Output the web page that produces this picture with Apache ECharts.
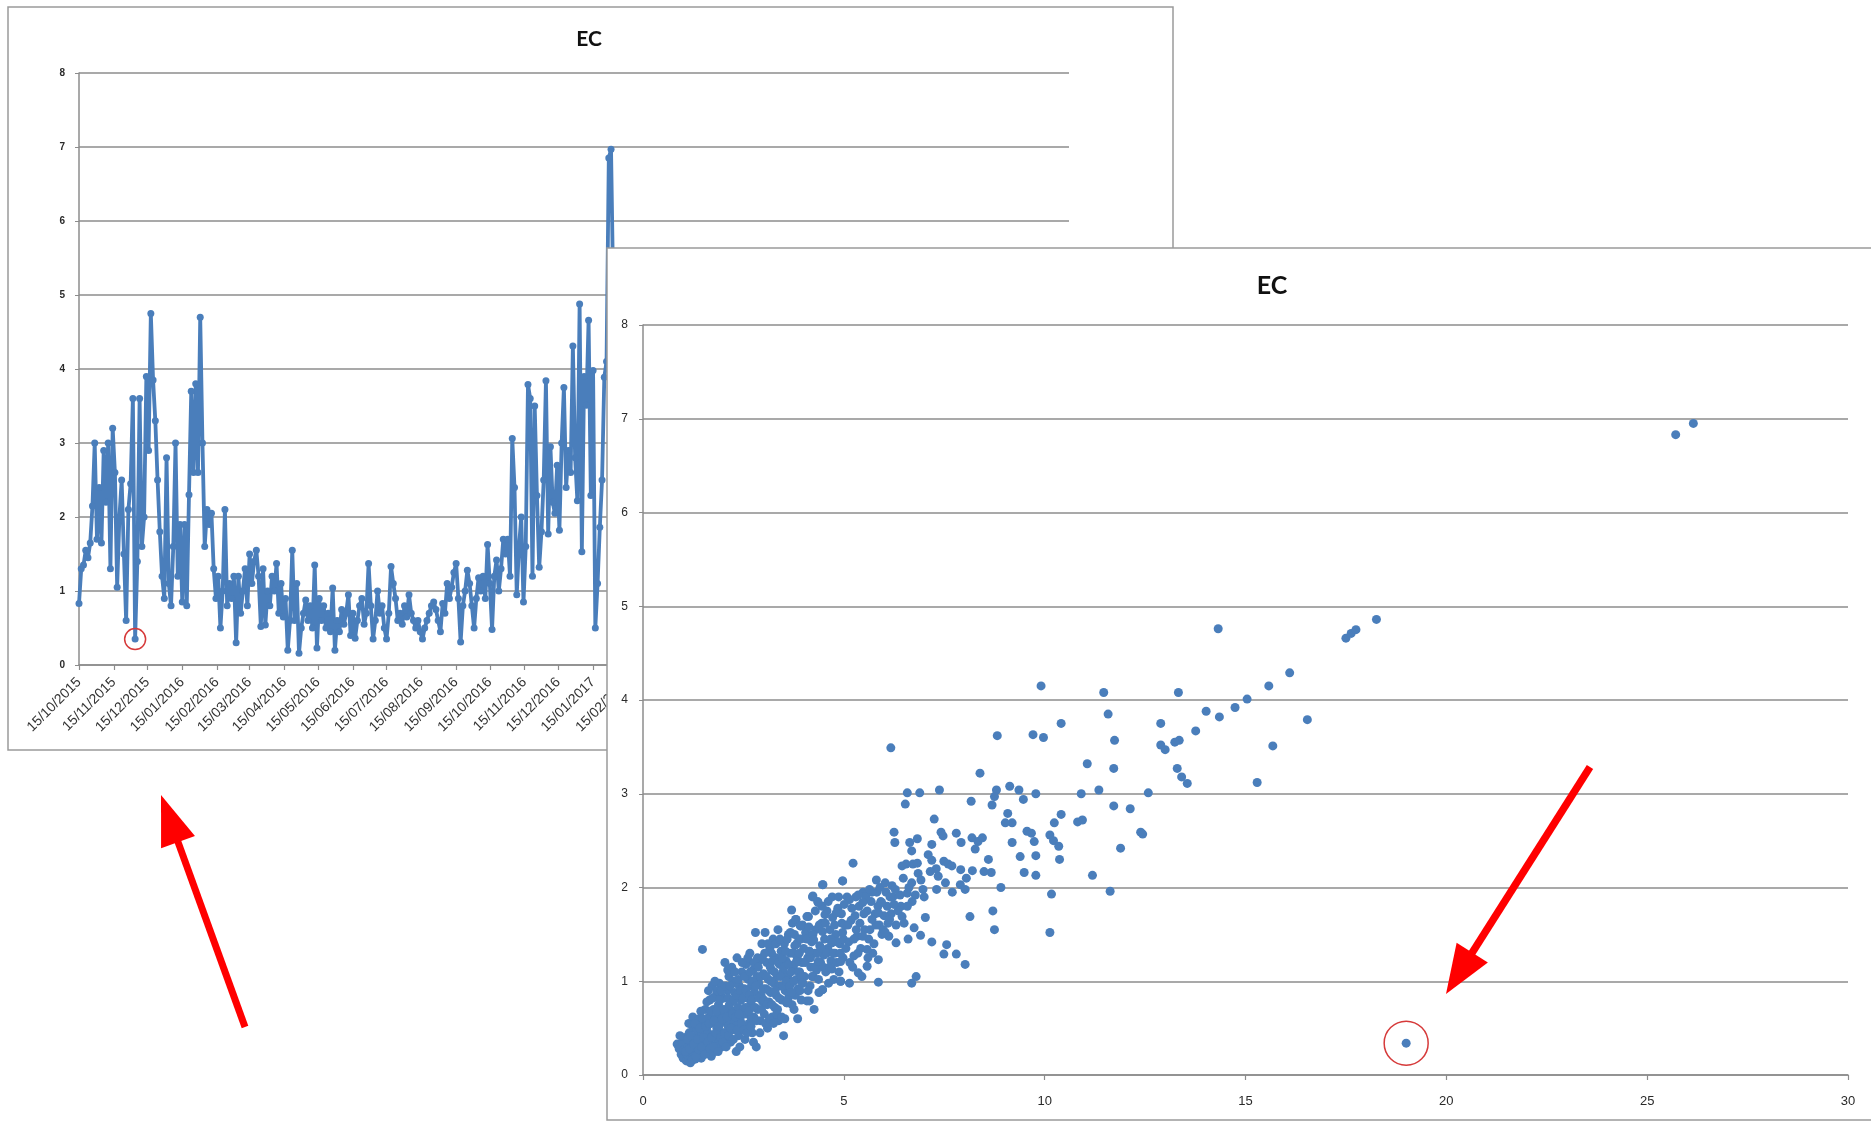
<!DOCTYPE html>
<html><head><meta charset="utf-8">
<script src="https://cdn.jsdelivr.net/npm/echarts@6/dist/echarts.min.js"></script>
<style>
html,body{margin:0;padding:0;background:#fff;overflow:hidden;width:1871px;height:1122px;}
#c1,#c2{position:absolute;left:0;top:0;width:1871px;height:1122px;}
</style></head><body>
<div id="c1"></div><div id="c2"></div>
<script>
// ---------- data ----------
const chartTitle = 'EC';
const monthTicks = ['15/10/2015','15/11/2015','15/12/2015','15/01/2016','15/02/2016','15/03/2016','15/04/2016','15/05/2016','15/06/2016','15/07/2016','15/08/2016','15/09/2016','15/10/2016','15/11/2016','15/12/2016','15/01/2017','15/02/2017','15/03/2017','15/04/2017','15/05/2017','15/06/2017','15/07/2017','15/08/2017','15/09/2017','15/10/2017','15/11/2017','15/12/2017','15/01/2018','15/02/2018','15/03/2018'];
const ecStartDate = '15/10/2015';
const ecStepDays = 2;
const ecValues = [
0.83,1.3,1.35,1.55,1.45,1.65,2.15,3.0,1.7,2.4,1.65,2.9,2.2,3.0,1.3,3.2,2.6,1.05,2.0,2.5,
1.5,0.6,2.1,2.45,3.6,0.35,1.4,3.6,1.6,2.0,3.9,2.9,4.75,3.85,3.3,2.5,1.8,1.2,0.9,2.8,
1.1,0.8,1.6,3.0,1.2,1.9,0.85,1.9,0.8,2.3,3.7,2.6,3.8,2.6,4.7,3.0,1.6,2.1,1.9,2.05,
1.3,0.9,1.2,0.5,1.0,2.1,0.8,1.1,0.9,1.2,0.3,1.2,0.7,1.0,1.3,0.8,1.5,1.1,1.4,
1.55,1.2,0.52,1.3,0.54,1.0,0.8,1.2,1.0,1.37,0.7,1.1,0.65,0.9,0.2,0.6,1.55,0.6,1.1,0.16,
0.5,0.7,0.88,0.6,0.8,0.5,1.35,0.23,0.9,0.6,0.8,0.5,0.7,0.45,1.04,0.2,0.6,0.45,0.75,0.55,
0.7,0.95,0.4,0.7,0.36,0.6,0.8,0.9,0.55,0.7,1.37,0.8,0.35,0.6,1.0,0.7,0.8,0.5,0.35,0.7,
1.33,1.1,0.9,0.6,0.7,0.55,0.8,0.65,0.95,0.7,0.6,0.5,0.6,0.45,0.35,0.5,0.6,0.7,0.8,0.85,
0.75,0.6,0.45,0.83,0.7,1.1,0.9,1.05,1.25,1.37,0.9,0.31,0.8,1.0,1.28,1.1,0.8,0.5,0.9,1.18,
1.0,1.2,0.9,1.63,1.1,0.48,1.2,1.42,1.0,1.3,1.7,1.5,1.7,1.2,3.06,2.4,0.95,1.6,2.0,0.85,
1.6,3.79,3.6,1.2,3.5,2.29,1.32,1.8,2.5,3.84,1.77,2.95,2.2,2.05,2.7,1.82,3.0,3.75,2.4,2.9,
2.6,4.31,2.8,2.22,4.88,1.53,3.9,3.51,4.66,2.29,3.98,0.5,1.1,1.86,2.5,3.89,4.1,6.85,6.97,5.0,3.2
];
const circledIndex = 25;

const scatterPoints = [
[0.85,0.33],[0.9,0.28],[0.95,0.22],[0.98,0.35],[1.0,0.18],[1.02,0.27],[1.05,0.4],[0.92,0.42],
[1.08,0.15],[1.1,0.22],[1.12,0.3],[1.15,0.45],[1.18,0.13],[1.2,0.2],[1.22,0.35],[1.25,0.5],[1.27,0.26],[1.3,0.17],[1.3,0.4],[1.14,0.55],[1.24,0.62],
[1.33,0.3],[1.35,0.48],[1.37,0.22],[1.4,0.6],[1.42,0.35],[1.45,0.18],[1.47,0.44],[1.5,0.28],[1.52,0.55],[1.55,0.7],[1.57,0.38],[1.6,0.25],[1.48,1.34],[1.38,0.52],[1.58,0.5],
[1.62,0.45],[1.64,0.62],[1.66,0.8],[1.68,0.33],[1.7,0.55],[1.72,0.95],[1.74,0.42],[1.76,0.7],[1.78,0.25],[1.8,0.6],[1.82,0.85],[1.84,0.5],[1.86,0.37],[1.88,0.75],[1.9,0.98],[1.92,0.55],[1.94,0.65],[1.96,0.3],[1.98,0.45],[2.0,0.82],[1.7,0.2],[1.8,0.3],
[2.02,0.58],[2.04,1.2],[2.06,0.4],[2.08,0.7],[2.1,0.9],[2.12,0.52],[2.14,1.05],[2.16,0.62],[2.18,0.35],[2.2,0.78],[2.22,0.48],[2.24,1.0],[2.26,0.68],[2.28,0.88],[2.3,0.55],[2.32,0.25],[2.34,1.25],[2.36,0.72],[2.38,0.42],[2.4,0.95],[2.42,0.6],[2.44,0.8],[2.46,1.1],[2.48,0.5],[2.5,0.7],[2.12,0.82],[2.3,0.98],[2.2,0.6],
[2.52,0.92],[2.54,0.38],[2.56,1.18],[2.58,0.65],[2.6,0.82],[2.62,1.02],[2.64,0.55],[2.66,1.3],[2.68,0.75],[2.7,0.95],[2.72,0.45],[2.74,1.12],[2.76,0.62],[2.78,0.88],[2.8,1.52],[2.82,0.3],[2.84,1.05],[2.86,0.7],[2.88,0.98],[2.9,1.22],[2.92,0.58],[2.94,0.85],[2.96,1.4],[2.98,0.78],[3.0,1.08],[2.6,1.2],[2.7,0.6],[2.85,1.25],
[3.02,0.65],[3.04,1.52],[3.06,0.92],[3.08,1.2],[3.1,0.5],[3.12,1.02],[3.14,0.78],[3.16,1.35],[3.18,0.88],[3.2,1.12],[3.22,0.62],[3.24,1.45],[3.26,0.98],[3.28,0.72],[3.3,1.25],[3.32,0.85],[3.34,1.05],[3.36,1.55],[3.38,0.58],[3.4,1.18],[3.42,0.95],[3.44,1.32],[3.46,0.8],[3.48,1.1],[3.5,0.42],[3.2,1.3],[3.35,0.7],
[3.52,1.4],[3.54,0.9],[3.56,1.22],[3.58,0.77],[3.6,1.05],[3.62,1.5],[3.64,0.85],[3.66,1.3],[3.68,0.98],[3.7,0.88],[3.72,1.62],[3.74,1.15],[3.76,0.7],[3.78,1.38],[3.8,1.66],[3.82,1.02],[3.84,1.25],[3.86,0.92],[3.88,1.45],[3.9,1.1],[3.92,1.59],[3.94,0.8],[3.96,1.2],[3.98,0.98],[4.0,1.35],
[4.02,1.05],[4.05,1.52],[4.08,0.79],[4.1,1.25],[4.12,1.69],[4.14,1.32],[4.16,0.95],[4.18,1.15],[4.2,1.42],[4.22,1.9],[4.24,1.05],[4.26,0.7],[4.28,1.3],[4.3,1.55],[4.32,1.12],[4.35,1.85],[4.38,0.88],[4.4,1.38],[4.42,1.2],[4.45,1.62],[4.47,0.91],[4.48,2.03],[4.5,1.28],
[4.52,1.45],[4.55,1.1],[4.58,1.75],[4.6,1.35],[4.62,0.98],[4.65,1.55],[4.68,1.22],[4.7,1.41],[4.72,1.68],[4.75,1.02],[4.78,1.3],[4.8,1.5],[4.82,1.2],[4.85,1.78],[4.88,1.1],[4.9,1.4],[4.92,1.0],[4.95,1.62],[4.97,2.07],[4.98,1.25],
[1.06,0.25],[1.11,0.38],[1.16,0.28],[1.19,0.42],[1.23,0.16],[1.26,0.33],[1.29,0.55],[1.32,0.2],[1.36,0.38],[1.39,0.27],[1.41,0.5],[1.44,0.68],[1.46,0.3],[1.49,0.6],[1.51,0.4],[1.54,0.22],[1.56,0.52],[1.59,0.78],[1.61,0.35],[1.63,0.9],[1.65,0.55],[1.67,0.28],[1.69,0.68],[1.71,0.4],[1.73,0.82],[1.75,0.3],[1.77,0.58],[1.79,1.0],[1.81,0.45],[1.83,0.68],[1.85,0.9],[1.87,0.25],[1.89,0.52],[1.91,0.8],[1.93,0.4],[1.95,0.9],[1.97,0.6],[1.99,0.35],
[2.01,0.7],[2.03,0.45],[2.05,0.95],[2.07,0.3],[2.09,0.62],[2.11,1.12],[2.13,0.42],[2.15,0.75],[2.17,0.95],[2.19,0.5],[2.21,1.15],[2.23,0.65],[2.25,0.38],[2.27,0.8],[2.29,1.1],[2.31,0.62],[2.33,0.85],[2.35,0.48],[2.37,1.02],[2.39,0.65],[2.41,0.3],[2.43,0.9],[2.45,0.55],[2.47,1.2],[2.49,0.82],[2.51,0.48],[2.53,1.05],[2.55,0.72],[2.57,0.9],[2.59,0.45],[2.61,1.25],[2.63,0.68],[2.65,0.85],[2.67,1.1],[2.69,0.52],[2.71,0.8],[2.73,1.0],[2.75,0.35],[2.77,1.2],[2.79,0.72],[2.81,0.95],[2.83,0.58],[2.87,1.15],[2.89,0.82],[2.91,0.45],[2.93,1.05],[2.95,0.7],[2.97,1.25],[2.99,0.92],
[3.01,0.8],[3.03,1.3],[3.05,0.55],[3.07,1.05],[3.09,0.75],[3.11,1.4],[3.13,0.9],[3.15,0.6],[3.17,1.15],[3.19,1.0],[3.21,0.75],[3.23,1.22],[3.25,0.55],[3.27,1.1],[3.29,0.9],[3.31,1.4],[3.33,0.65],[3.37,1.2],[3.39,0.82],[3.41,1.45],[3.43,1.05],[3.45,0.62],[3.47,1.25],[3.49,0.95],[3.51,1.15],[3.53,0.6],[3.55,1.32],[3.57,1.0],[3.59,1.45],[3.61,0.8],[3.63,1.18],[3.65,0.95],[3.67,1.52],[3.69,1.1],[3.71,0.75],[3.73,1.3],[3.75,1.0],[3.77,1.5],[3.79,0.85],[3.81,1.2],[3.83,1.4],[3.85,0.6],[3.87,1.1],[3.89,1.3],[3.91,0.9],[3.93,1.45],[3.95,1.05],[3.97,1.6],
[4.04,1.2],[4.07,1.45],[4.11,0.9],[4.13,1.58],[4.17,1.25],[4.21,1.05],[4.23,1.5],[4.27,1.15],[4.29,1.75],[4.33,1.3],[4.37,1.02],[4.39,1.6],[4.43,1.35],[4.46,1.8],[4.49,1.15],[4.54,1.62],[4.57,1.3],[4.61,1.85],[4.64,1.15],[4.67,1.45],[4.71,1.9],[4.74,1.3],[4.77,1.6],[4.83,1.42],[4.87,1.9],[4.91,1.3],[4.94,1.72],[4.99,1.45],
[5.03,1.6],[5.08,1.9],[5.12,1.42],[5.18,1.65],[5.22,1.15],[5.28,1.7],[5.33,1.48],[5.38,1.8],[5.42,1.35],[5.48,1.95],[5.52,1.55],[5.58,1.75],[5.62,1.45],[5.68,1.85],[5.72,1.3],[5.78,1.72],[5.82,1.95],[5.88,1.6],[5.92,1.85],[5.98,1.55],[6.08,1.8],[6.12,1.48],[6.18,1.72],[6.22,1.9],[6.3,1.6],[6.42,1.8],[6.48,2.1],[6.62,2.0],[6.72,2.25],[6.78,1.92],
[5.05,1.35],[5.1,1.6],[5.15,1.2],[5.2,1.78],[5.25,1.45],[5.3,1.9],[5.35,1.3],[5.4,1.62],[5.45,1.05],[5.5,1.72],[5.55,1.9],[5.6,1.25],[5.65,1.55],[5.7,1.95],[5.75,1.4],[5.8,1.6],[5.85,1.8],[5.9,2.0],[5.95,1.5],[6.0,1.7],[6.05,1.95],[6.1,1.62],[6.15,1.9],[6.2,2.02],[6.35,1.75],[6.4,1.92],[6.5,1.62],[6.55,2.25],[6.7,1.85],[6.85,2.15],[7.0,1.9],[7.1,2.35],[7.3,2.2],[7.6,2.25],[7.7,1.95],[8.05,2.1],[8.2,2.18],
[6.25,2.59],[6.27,2.48],[6.64,2.48],[6.83,2.52],[6.69,2.39],[7.19,2.46],[7.42,2.59],[7.47,2.55],[7.8,2.58],[7.92,2.48],[8.19,2.53],[8.34,2.49],[8.45,2.53],[8.27,2.41],
[6.45,2.23],[6.83,2.26],[7.19,2.29],[7.49,2.28],[7.69,2.23],[7.91,2.19],[7.15,2.17],[7.35,2.12],[6.92,2.08],[6.69,2.05],[6.97,1.98],[7.31,1.98],[7.53,2.05],[7.9,2.03],[8.02,1.98],
[6.03,2.05],[5.81,2.08],[5.64,1.98],[6.28,1.98],[6.58,1.94],[5.94,1.84],[6.25,1.82],[6.58,1.8],[5.86,1.73],[6.14,1.66],[6.45,1.69],[6.75,1.57],[7.03,1.68],[6.6,1.45],[6.3,1.41],[6.03,1.52],[5.7,1.66],[5.47,1.84],[5.36,1.92],[5.14,1.87],[5.01,1.82],
[5.47,1.48],[5.58,1.34],[5.86,1.23],[5.58,1.16],[5.36,1.09],[5.14,0.98],[4.92,1.0],[4.7,1.13],[4.92,1.21],[5.25,1.27],[4.7,1.41],[4.97,1.52],[5.31,1.55],[4.47,1.53],[4.25,1.44],[4.53,1.71],[4.36,1.84],[4.81,1.73],[4.08,1.69],[3.81,1.66],[3.7,1.76],[3.92,1.59],[4.14,1.32],[4.36,1.21],[4.47,0.91],[4.14,0.79],[3.97,0.98],[3.7,0.88],[3.58,0.77],
[9.91,4.15],[11.47,4.08],[13.33,4.08],[11.58,3.85],[10.41,3.75],[12.89,3.75],[14.02,3.88],[14.35,3.82],[14.74,3.92],[15.04,4.01],[15.58,4.15],[16.1,4.29],[13.76,3.67],[13.35,3.57],[13.24,3.55],[12.89,3.52],[13.0,3.47],[11.74,3.57],[15.68,3.51],[16.54,3.79],
[9.71,3.63],[9.97,3.6],[8.82,3.62],[6.17,3.49],[11.06,3.32],[11.72,3.27],[13.3,3.27],[13.41,3.18],[13.55,3.11],[15.29,3.12],[8.39,3.22],[11.35,3.04],[10.91,3.0],[12.58,3.01],[9.78,3.0],[9.13,3.08],[9.36,3.04],[9.47,2.94],[8.8,3.04],[8.75,2.97],[8.69,2.88],[8.17,2.92],[7.38,3.04],[6.89,3.01],[6.58,3.01],[6.53,2.89],
[11.72,2.87],[12.13,2.84],[9.08,2.79],[9.19,2.69],[9.02,2.69],[10.41,2.78],[10.24,2.69],[10.82,2.7],[10.94,2.72],[7.25,2.73],[9.19,2.48],[9.56,2.6],[9.67,2.58],[9.74,2.49],[10.13,2.56],[10.22,2.5],[10.35,2.44],[10.37,2.3],[12.39,2.59],[12.44,2.57],[11.89,2.42],[9.39,2.33],[9.78,2.34],[9.49,2.16],[9.78,2.13],[11.19,2.13],[11.63,1.96],[10.17,1.93],[10.13,1.52],
[8.91,2.0],[8.67,2.16],[8.49,2.17],[8.6,2.3],[8.71,1.75],[8.75,1.55],[8.14,1.69],[8.02,1.18],[7.8,1.29],[7.49,1.29],[7.56,1.39],[7.19,1.42],[6.91,1.49],[6.8,1.05],[6.69,0.98],[5.86,0.99],[5.23,2.26],[4.97,2.07],[4.47,2.03],[4.23,1.91],
[14.32,4.76],[17.5,4.66],[17.63,4.71],[17.75,4.75],[18.26,4.86],[25.71,6.83],[26.15,6.95]
];
const scatterOutlier = [19.0, 0.34];

// ---------- helpers ----------
const BLUE = '#4a7ebb';
const GRID = '#8c8c8c';
const AXIS = '#8c8c8c';
const LABEL = '#2a2a2a';
const DAY = 86400000;
function parseDMY(s){ const p = s.split('/').map(Number); return Date.UTC(p[2], p[1]-1, p[0]); }
const tickTimes = monthTicks.map(parseDMY);
const t0 = parseDMY(ecStartDate);
const lineData = ecValues.map((v,i)=>[t0 + i*ecStepDays*DAY, v]);
const circledLeft = [lineData[circledIndex]];

function arrow(tail, tip, headLen, headHalf, width){
  const dx = tip[0]-tail[0], dy = tip[1]-tail[1];
  const L = Math.hypot(dx,dy), ux = dx/L, uy = dy/L, nx = -uy, ny = ux;
  const bx = tip[0]-ux*headLen, by = tip[1]-uy*headLen;
  return [
    {type:'line', z:50, shape:{x1:tail[0],y1:tail[1],x2:bx+ux*2,y2:by+uy*2}, style:{stroke:'#ff0000', lineWidth:width, lineCap:'butt'}},
    {type:'polygon', z:50, shape:{points:[[tip[0],tip[1]],[bx+nx*headHalf,by+ny*headHalf],[bx-nx*headHalf,by-ny*headHalf]]}, style:{fill:'#ff0000'}}
  ];
}
function tickLabel(v){ const i = tickTimes.findIndex(t=>Math.abs(t-v)<DAY/2); return i>=0?monthTicks[i]:''; }

// ---------- left chart (time series) ----------
const c1 = echarts.init(document.getElementById('c1'), null, {renderer:'canvas'});
c1.setOption({
  animation:false,
  backgroundColor:'#ffffff',
  grid:{left:79, top:73, width:990, height:592},
  xAxis:{
    type:'value', min:tickTimes[0], max:tickTimes[tickTimes.length-1], z:5,
    axisLine:{show:true, lineStyle:{color:AXIS, width:1.5}},
    axisTick:{show:true, customValues:tickTimes, length:5, lineStyle:{color:AXIS, width:1.2}},
    axisLabel:{show:true, customValues:tickTimes, rotate:45, margin:15, fontSize:14, color:'#333',
      fontFamily:'Liberation Sans, Arial, sans-serif', hideOverlap:false, formatter:tickLabel},
    splitLine:{show:false}
  },
  yAxis:{
    type:'value', min:0, max:8, interval:1, z:5,
    axisLine:{show:true, lineStyle:{color:AXIS, width:1.5}},
    axisTick:{show:true, length:4, lineStyle:{color:AXIS}},
    axisLabel:{fontSize:10, fontWeight:'bold', color:LABEL, margin:14, fontFamily:'Liberation Sans, Arial, sans-serif'},
    splitLine:{show:true, lineStyle:{color:GRID, width:1.6}}
  },
  series:[
    {type:'line', data:lineData, z:6, showSymbol:true, showAllSymbol:true, symbol:'circle', symbolSize:7,
     lineStyle:{color:BLUE, width:3.8, join:'round'}, itemStyle:{color:BLUE, opacity:1}},
    {type:'scatter', data:circledLeft, z:7, symbol:'circle', symbolSize:21,
     itemStyle:{color:'rgba(0,0,0,0)', borderColor:'#d63a3a', borderWidth:1.5, opacity:1}}
  ],
  graphic:[
    {type:'rect', z:1, shape:{x:8, y:7, width:1165, height:743}, style:{fill:'none', stroke:'#9a9a9a', lineWidth:1.5}},
    {type:'text', z:10, x:589, y:39, style:{text:chartTitle, font:'bold 21px Lato, "Open Sans", sans-serif', fill:'#111', textAlign:'center', textVerticalAlign:'middle'}}
  ].concat(arrow([245,1027],[161,795],50,18,7))
});

// ---------- right chart (scatter) ----------
const c2 = echarts.init(document.getElementById('c2'), null, {renderer:'canvas'});
c2.setOption({
  animation:false,
  grid:{left:643, top:325, width:1205, height:750},
  xAxis:{
    type:'value', min:0, max:30, interval:5, z:5,
    axisLine:{show:true, lineStyle:{color:AXIS, width:1.5}},
    axisTick:{show:true, length:5, lineStyle:{color:AXIS, width:1.2}},
    axisLabel:{fontSize:13, color:LABEL, margin:20, fontFamily:'Liberation Sans, Arial, sans-serif'},
    splitLine:{show:false}
  },
  yAxis:{
    type:'value', min:0, max:8, interval:1, z:5,
    axisLine:{show:true, lineStyle:{color:AXIS, width:1.5}},
    axisTick:{show:true, length:4, lineStyle:{color:AXIS}},
    axisLabel:{fontSize:12, color:LABEL, margin:15, fontFamily:'Liberation Sans, Arial, sans-serif'},
    splitLine:{show:true, lineStyle:{color:GRID, width:1.6}}
  },
  series:[
    {type:'scatter', data:scatterPoints.concat([scatterOutlier]), z:6, symbol:'circle', symbolSize:9,
     itemStyle:{color:BLUE, opacity:1}},
    {type:'scatter', data:[scatterOutlier], z:7, symbol:'circle', symbolSize:44,
     itemStyle:{color:'rgba(0,0,0,0)', borderColor:'#d63a3a', borderWidth:1.5, opacity:1}}
  ],
  graphic:[
    {type:'rect', z:1, shape:{x:607, y:248, width:1300, height:872}, style:{fill:'#ffffff', stroke:'#9a9a9a', lineWidth:1.5}},
    {type:'text', z:10, x:1272, y:286, style:{text:chartTitle, font:'bold 25px Lato, "Open Sans", sans-serif', fill:'#111', textAlign:'center', textVerticalAlign:'middle'}}
  ].concat(arrow([1590,767],[1446,994],49,18.5,7.5))
});
</script>
</body></html>
